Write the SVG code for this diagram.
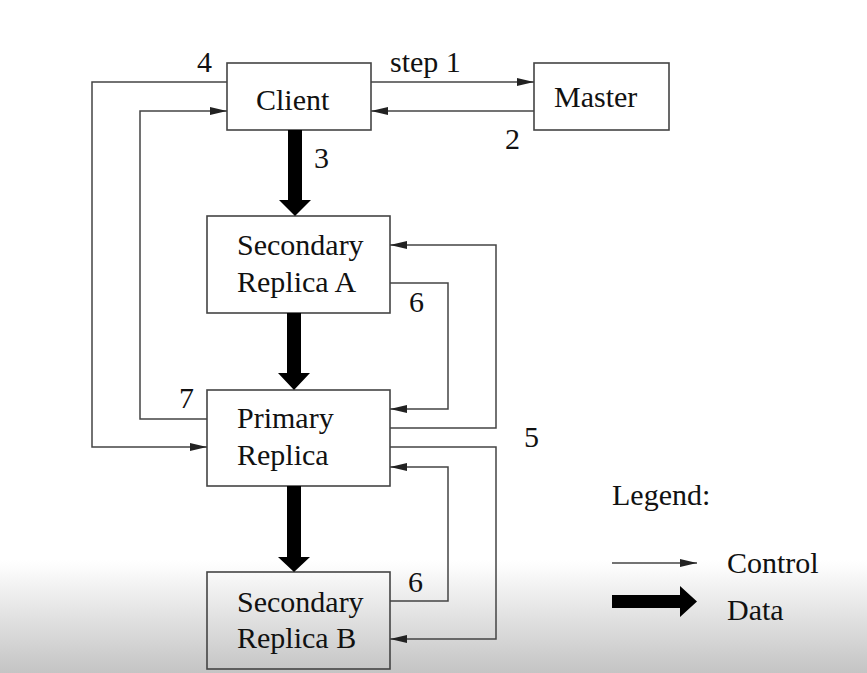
<svg xmlns="http://www.w3.org/2000/svg" width="867" height="673" viewBox="0 0 867 673">
<defs>
<linearGradient id="bg" x1="0" y1="0" x2="0" y2="1">
<stop offset="0" stop-color="#ffffff"/>
<stop offset="0.08" stop-color="#fbfbfb"/>
<stop offset="1" stop-color="#c4c4c4"/>
</linearGradient>
<marker id="ah" markerUnits="userSpaceOnUse" markerWidth="17" markerHeight="8" refX="17" refY="4" orient="auto">
<path d="M0,0 L17,4 L0,8 z" fill="#222"/>
</marker>
</defs>
<style>
.box{fill:none;stroke:#444;stroke-width:1.6}
.t{font-family:"Liberation Serif","Times New Roman",serif;font-size:30px;fill:#111}
.c{fill:none;stroke:#444;stroke-width:1.5;marker-end:url(#ah)}
.d{fill:#000}
</style>
<rect x="0" y="0" width="867" height="673" fill="#fff"/>
<rect x="0" y="560" width="867" height="113" fill="url(#bg)"/>

<g id="client"><rect class="box" x="227" y="63" width="144" height="67"/><text class="t" x="256" y="110">Client</text></g>
<g id="master"><rect class="box" x="534" y="63" width="135" height="67"/><text class="t" x="554" y="107">Master</text></g>
<g id="secondaryA"><rect class="box" x="207" y="216" width="183" height="97"/><text class="t" x="237" y="255">Secondary</text><text class="t" x="237" y="292">Replica A</text></g>
<g id="primary"><rect class="box" x="207" y="390" width="183" height="96"/><text class="t" x="237" y="428">Primary</text><text class="t" x="237" y="465">Replica</text></g>
<g id="secondaryB"><rect class="box" x="207" y="572" width="183" height="97"/><text class="t" x="237" y="612">Secondary</text><text class="t" x="237" y="648">Replica B</text></g>

<g id="connectors">
<path class="c" d="M371,82 H534"/>
<path class="c" d="M534,111 H371"/>
<path class="c" d="M227,82 H92 V447 H207"/>
<path class="c" d="M207,419 H140 V111 H227"/>
<path class="c" d="M390,283 H448 V409 H390"/>
<path class="c" d="M390,428 H496 V245 H390"/>
<path class="c" d="M390,447 H496 V639 H390"/>
<path class="c" d="M390,601 H448 V467 H390"/>
<polygon class="d" points="288,130 302,130 302,200 311,200 295,216 279,200 288,200"/>
<polygon class="d" points="287,313 301,313 301,373 310,373 294,390 278,373 287,373"/>
<polygon class="d" points="287,486 301,486 301,557 310,557 294,572 278,557 287,557"/>
</g>

<g id="labels">
<text class="t" x="390" y="72">step 1</text>
<text class="t" x="505" y="149">2</text>
<text class="t" x="197" y="72">4</text>
<text class="t" x="314" y="168">3</text>
<text class="t" x="409" y="312">6</text>
<text class="t" x="179" y="408">7</text>
<text class="t" x="524" y="447">5</text>
<text class="t" x="408" y="592">6</text>
</g>

<g id="legend">
<text class="t" x="612" y="505">Legend:</text>
<path class="c" d="M612,563 H697"/>
<text class="t" x="727" y="573">Control</text>
<polygon class="d" points="612,595 680,595 680,586 697,601.5 680,617 680,608 612,608"/>
<text class="t" x="727" y="620">Data</text>
</g>
</svg>
